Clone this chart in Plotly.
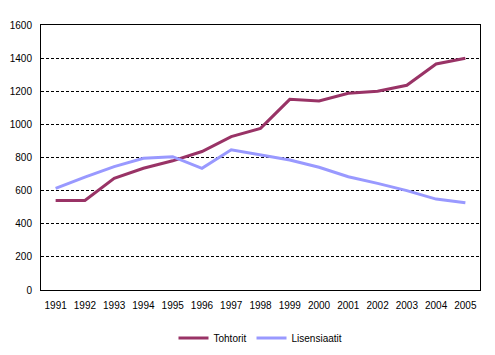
import plotly.graph_objects as go

years = ["1991", "1992", "1993", "1994", "1995", "1996", "1997", "1998",
         "1999", "2000", "2001", "2002", "2003", "2004", "2005"]
tohtorit = [540, 540, 674, 735, 780, 836, 926, 976, 1151, 1141, 1188, 1200, 1236, 1365, 1399]
lisensiaatit = [614, 682, 745, 795, 805, 735, 847, 815, 785, 741, 684, 644, 600, 549, 527]
y_ticks = [0, 200, 400, 600, 800, 1000, 1200, 1400, 1600]

fig = go.Figure()
fig.add_trace(go.Scatter(x=years, y=tohtorit, mode="lines", name="Tohtorit",
                         line=dict(color="#993366", width=3)))
fig.add_trace(go.Scatter(x=years, y=lisensiaatit, mode="lines", name="Lisensiaatit",
                         line=dict(color="#9999FF", width=3)))

# page body has an 8px default margin; figure sized to fit the 495x355 window
fig.update_layout(
    width=487, height=347,
    margin=dict(l=33, r=15, t=17, b=65, autoexpand=False),
    paper_bgcolor="white", plot_bgcolor="white",
    font=dict(family="Liberation Sans, Arial, sans-serif", size=10, color="black"),
    showlegend=True,
    legend=dict(orientation="h", x=0.5, xanchor="center", y=-0.181, yanchor="middle",
                font=dict(size=10), itemwidth=30, tracegroupgap=0),
)
fig.update_xaxes(type="category", range=[-0.5, 14.5], showline=True, linecolor="black",
                 linewidth=1, mirror=True, showgrid=False, ticks="", ticklen=0,
                 automargin=False, ticklabelstandoff=6)
fig.update_yaxes(range=[0, 1600], tickvals=y_ticks, showline=True, linecolor="black",
                 linewidth=1, mirror=True, showgrid=True, gridcolor="black", gridwidth=1,
                 griddash="3px,2px", zeroline=False, ticks="", ticklen=0,
                 automargin=False, ticklabelstandoff=6)

fig.write_html("out.html")
